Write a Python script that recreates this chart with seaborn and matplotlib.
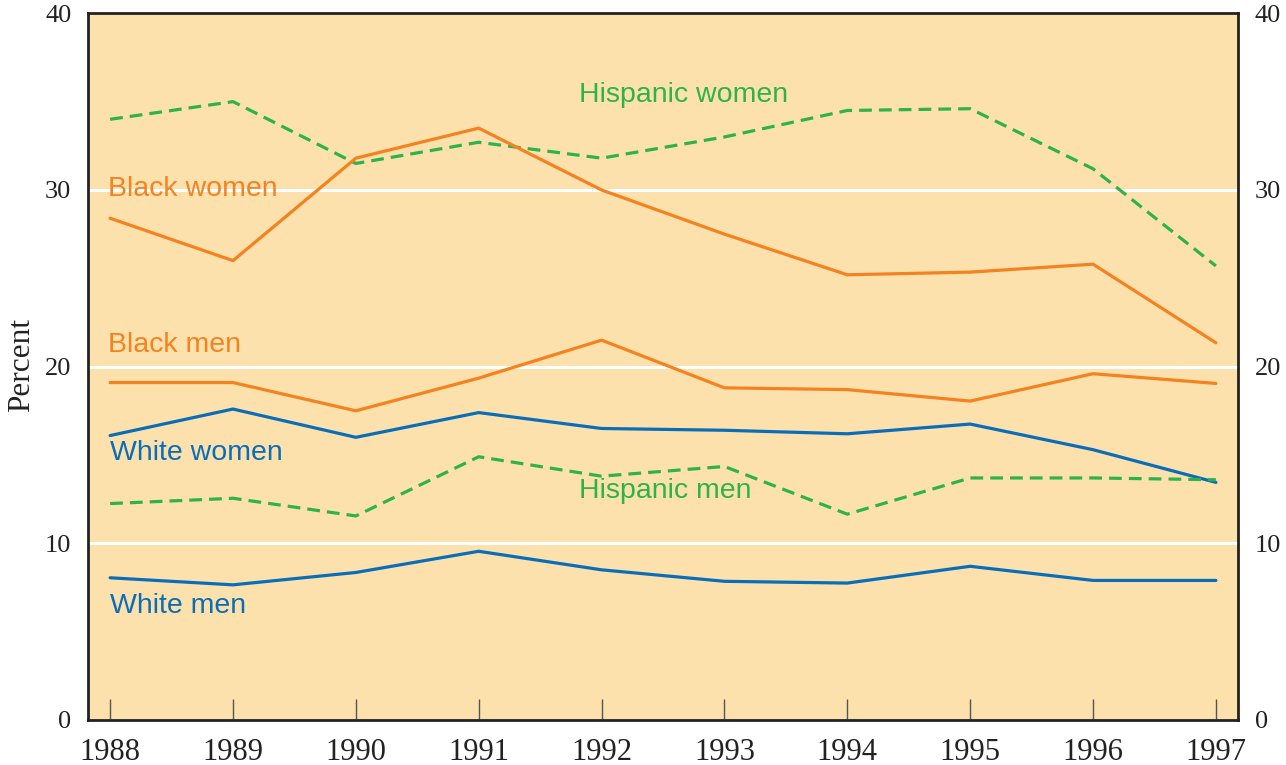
import matplotlib
matplotlib.use("Agg")
import matplotlib.pyplot as plt
import seaborn as sns
import pandas as pd

years = [1988, 1989, 1990, 1991, 1992, 1993, 1994, 1995, 1996, 1997]
hispanic_women = [34.0, 35.0, 31.5, 32.7, 31.8, 33.0, 34.5, 34.6, 31.2, 25.7]
black_women = [28.4, 26.0, 31.8, 33.5, 30.0, 27.5, 25.2, 25.35, 25.8, 21.35]
black_men = [19.1, 19.1, 17.5, 19.35, 21.5, 18.8, 18.7, 18.05, 19.6, 19.05]
white_women = [16.1, 17.6, 16.0, 17.4, 16.5, 16.4, 16.2, 16.75, 15.3, 13.45]
hispanic_men = [12.25, 12.55, 11.55, 14.9, 13.8, 14.35, 11.65, 13.7, 13.7, 13.6]
white_men = [8.05, 7.65, 8.35, 9.55, 8.5, 7.85, 7.75, 8.7, 7.9, 7.9]
y_ticks = [0, 10, 20, 30, 40]

series = {
    "Hispanic women": hispanic_women,
    "Black women": black_women,
    "Black men": black_men,
    "White women": white_women,
    "Hispanic men": hispanic_men,
    "White men": white_men,
}
rows = []
for name, vals in series.items():
    for yr, v in zip(years, vals):
        rows.append({"Year": yr, "Percent": v, "Group": name})
df = pd.DataFrame(rows)

ORANGE = "#F58220"
BLUE = "#0A6DB8"
GREEN = "#2DB34A"
BG = "#FCE1AD"
palette = {
    "Hispanic women": GREEN, "Hispanic men": GREEN,
    "Black women": ORANGE, "Black men": ORANGE,
    "White women": BLUE, "White men": BLUE,
}
dashes = {
    "Hispanic women": (4, 2.2), "Hispanic men": (4, 2.2),
    "Black women": "", "Black men": "",
    "White women": "", "White men": "",
}

sns.set_theme(style="white")
fig = plt.figure(figsize=(12.86, 7.65), dpi=100)
ax = fig.add_axes([88/1286, 1 - 720/765, (1238-88)/1286, (720-13.3)/765])
ax.set_facecolor(BG)

for y in [10, 20, 30]:
    ax.axhline(y, color="white", lw=2.2, zorder=1)

sns.lineplot(data=df, x="Year", y="Percent", hue="Group", style="Group",
             palette=palette, dashes=dashes, linewidth=2.3, legend=False,
             ax=ax, zorder=3)

ax.set_xlim(1987.82, 1997.18)
ax.set_ylim(0, 40)
ax.set_xticks(years)
ax.set_yticks(y_ticks)
ax.set_xlabel("")
ax.set_ylabel("")
serif = "Liberation Serif"
ax.tick_params(axis="x", labelsize=22, labelcolor="#222222",
               labelfontfamily=serif, direction="in", length=15, width=1,
               color="#555555", pad=13, bottom=True, top=False)
ax.tick_params(axis="y", labelsize=19, labelcolor="#222222",
               labelfontfamily=serif, left=False, right=False, length=0,
               labelleft=True, labelright=True, pad=12)
ax.grid(False)
for s in ax.spines.values():
    s.set_color("#222222")
    s.set_linewidth(2)
    s.set_visible(True)

fig.text(22/1286, 1 - 365/765, "Percent", rotation=90, ha="center",
         va="center", fontsize=22.5, fontfamily=serif, color="#222222")

lab_font = "Liberation Sans"
labels = [
    ("Hispanic women", 1991.82, 35.4, GREEN),
    ("Black women", 1987.98, 30.05, ORANGE),
    ("Black men", 1987.98, 21.2, ORANGE),
    ("White women", 1988.0, 15.1, BLUE),
    ("Hispanic men", 1991.82, 12.95, GREEN),
    ("White men", 1988.0, 6.45, BLUE),
]
for txt, x, y, c in labels:
    ax.text(x, y, txt, color=c, fontsize=20.5, fontfamily=lab_font,
            ha="left", va="center", zorder=4)

fig.savefig("out.png", dpi=100)
